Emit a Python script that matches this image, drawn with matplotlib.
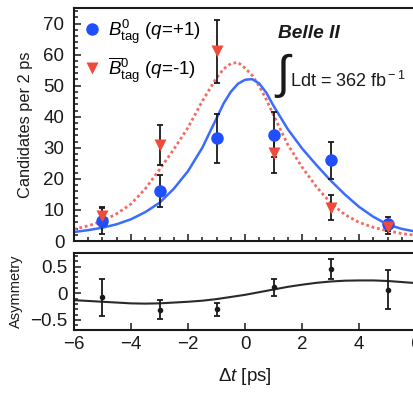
import numpy as np
import matplotlib
matplotlib.use('Agg')
from matplotlib import pyplot as plt
from matplotlib.ticker import MultipleLocator

plt.rcParams['font.family'] = ['Liberation Sans', 'DejaVu Sans']
plt.rcParams['mathtext.fontset'] = 'custom'
plt.rcParams['mathtext.rm'] = 'Liberation Sans'
plt.rcParams['mathtext.it'] = 'Liberation Sans:italic'
plt.rcParams['mathtext.bf'] = 'Liberation Sans:bold'

# binned data (delta t bin centres)
dt = [-5, -3, -1, 1, 3, 5]
b0_counts = [6.4, 16, 33, 34.2, 26, 5.4]
b0_err = [4.2, 5.1, 7.8, 7.2, 5.9, 2.3]
b0bar_counts = [8, 31, 61, 28.4, 10.7, 4.5]
b0bar_err = [3, 6.4, 10, 6.5, 4, 2.3]

asym = [-0.08, -0.31, -0.3, 0.11, 0.46, 0.07]
asym_err = [0.35, 0.18, 0.12, 0.16, 0.19, 0.36]

# fit curves
t_fit = [-6, -5.5, -5, -4.5, -4, -3.5, -3, -2.5, -2, -1.5, -1, -0.75, -0.5, -0.25,
         0, 0.25, 0.5, 0.75, 1, 1.5, 2, 2.5, 3, 3.5, 4, 4.5, 5, 5.5, 6]
b0_fit = [2.9, 3.5, 4.3, 5.4, 7, 9.3, 12.3, 16.8, 22.5, 30, 39.5, 44.3, 48, 50.6,
          51.9, 52.1, 50.7, 47.7, 43.5, 36, 29.8, 24.5, 19.5, 15, 11, 7.8, 5.3, 3.9, 3.0]
b0bar_fit = [3.8, 4.9, 6.4, 8.8, 11.9, 16.8, 23, 29.5, 36.5, 45, 52.5, 55.4, 57.1, 57.5,
             55.7, 53.3, 49.8, 45.5, 40.5, 31, 23.8, 17.5, 12.3, 8.5, 6.0, 4.4, 3.3, 2.4, 1.8]

t_asym = [-6, -5, -4, -3.5, -3, -2, -1.5, -1, -0.5, 0, 0.5, 1, 1.5, 2, 2.5, 3, 3.5, 4, 4.5, 5, 5.5, 6]
asym_fit = [-0.13, -0.16, -0.19, -0.195, -0.19, -0.16, -0.14, -0.11, -0.07, -0.03, 0.02, 0.07,
            0.12, 0.16, 0.195, 0.22, 0.235, 0.24, 0.24, 0.23, 0.21, 0.19]

blue = '#1f4fff'
red = '#ef4a3a'
ink = '#1a1a1a'

fig = plt.figure(figsize=(4.14, 3.94), dpi=100)
ax1 = fig.add_axes([0.1787, 0.3883, 0.8263, 0.5914])
ax2 = fig.add_axes([0.1787, 0.1624, 0.8263, 0.1955])

# upper panel
ax1.plot(t_fit, b0bar_fit, color='#f26b63', lw=2.0, ls=(0, (1, 1)), zorder=2)
ax1.plot(t_fit, b0_fit, color='#3a6cff', lw=1.8, zorder=2)
ax1.errorbar(dt, b0bar_counts, yerr=b0bar_err, fmt='none', ecolor=ink, elinewidth=1.3,
             capsize=2.5, capthick=1.3, zorder=3)
ax1.errorbar(dt, b0_counts, yerr=b0_err, fmt='none', ecolor=ink, elinewidth=1.3,
             capsize=2.5, capthick=1.3, zorder=3)
ax1.plot(dt, b0_counts, 'o', color=blue, ms=9, mec='none', zorder=4,
         label=r'$B^0_{\rm tag}$ ($q$=+1)')
ax1.plot(dt, b0bar_counts, 'v', color=red, ms=8.5, mec='none', zorder=5,
         label=r'$\overline{B}^0_{\rm tag}$ ($q$=-1)')

ax1.set_xlim(-6, 6)
ax1.set_ylim(0, 75)
ax1.yaxis.set_major_locator(MultipleLocator(10))
ax1.yaxis.set_minor_locator(MultipleLocator(2))
ax1.xaxis.set_major_locator(MultipleLocator(2))
ax1.xaxis.set_minor_locator(MultipleLocator(0.5))
ax1.tick_params(axis='x', labelbottom=False)
ax1.set_ylabel('Candidates per 2 ps', fontsize=11.8, color=ink)
ax1.yaxis.set_label_coords(-0.12, 0.5)

leg = ax1.legend(loc='upper left', bbox_to_anchor=(-0.025, 1.008), frameon=False,
                 fontsize=13.5, handletextpad=0.05, labelspacing=0.5,
                 handlelength=1.6, borderaxespad=0.2)

ax1.text(0.596, 0.872, 'Belle II', transform=ax1.transAxes, fontsize=13.8,
         fontweight='bold', fontstyle='italic', color=ink, va='baseline')
ax1.text(0.612, 0.712, r'$\int$', transform=ax1.transAxes, fontsize=34,
         color=ink, ha='center', va='center')
ax1.text(0.632, 0.663, r'Ldt = 362 fb$^{\rm -1}$', transform=ax1.transAxes,
         fontsize=13, color=ink, va='baseline')

# lower panel
ax2.plot(t_asym, asym_fit, color='#2a2a2a', lw=1.5, zorder=2)
ax2.errorbar(dt, asym, yerr=asym_err, fmt='o', color=ink, ms=3, elinewidth=1.3,
             capsize=2.5, capthick=1.3, zorder=3)
ax2.set_xlim(-6, 6)
ax2.set_ylim(-0.69, 0.755)
ax2.set_yticks([-0.5, 0, 0.5])
ax2.set_yticklabels(['\u22120.5', '0', '0.5'])
ax2.yaxis.set_minor_locator(MultipleLocator(0.1))
ax2.set_xticks([-6, -4, -2, 0, 2, 4, 6])
ax2.set_xticklabels(['\u22126', '\u22124', '\u22122', '0', '2', '4', '6'])
ax2.set_ylabel('Asymmetry', fontsize=10.5, color=ink)
ax2.yaxis.set_label_coords(-0.15, 0.5)
ax2.set_xlabel(r'$\Delta t$ [ps]', fontsize=13.5, color=ink, labelpad=10)

for ax in (ax1, ax2):
    for s in ax.spines.values():
        s.set_linewidth(1.5)
        s.set_color(ink)
    ax.tick_params(which='both', direction='in', colors=ink, labelsize=13.5, width=1.1)
    ax.tick_params(which='major', length=5)
    ax.tick_params(which='minor', length=3)
ax1.tick_params(axis='y', which='major', pad=7)
ax2.tick_params(axis='y', which='major', pad=4.5)
ax2.tick_params(axis='x', which='major', pad=4)

plt.savefig('out.png', dpi=100)
